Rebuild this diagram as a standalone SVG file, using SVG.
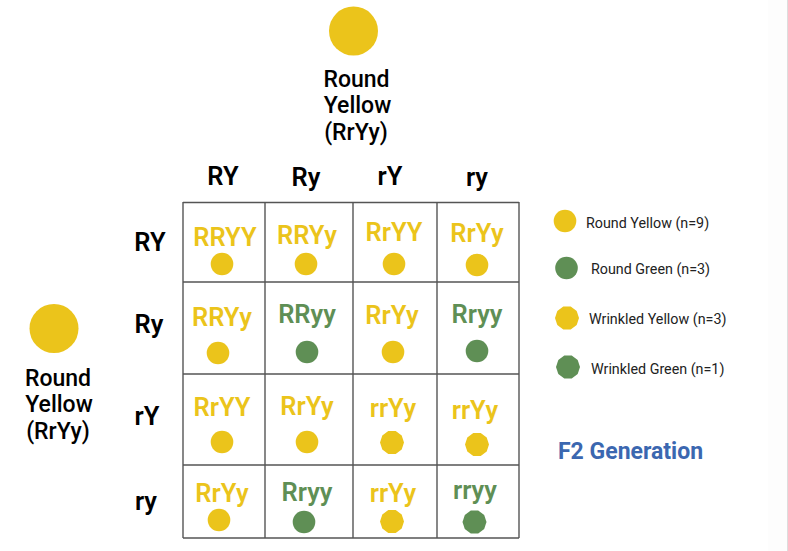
<svg xmlns="http://www.w3.org/2000/svg" width="788" height="551" viewBox="0 0 788 551">
<style>
text{font-family:Roboto,"Liberation Sans",sans-serif}
.h{font-size:25.500px;font-weight:600;fill:#000;text-anchor:middle}
.p{font-size:23px;font-weight:500;fill:#000;text-anchor:middle}
.g{font-size:25.500px;font-weight:600;text-anchor:middle}
.y{fill:#ebc41b}
.n{fill:#5f8f55}
.l{font-size:14.300px;fill:#222}
.grid line{stroke:#555;stroke-width:1.4}
</style>
<defs>
<polygon id="w" points="12,0 9.7,7 3.7,11.4 -3.7,11.4 -9.7,7 -12,0 -9.7,-7 -3.7,-11.4 3.7,-11.4 9.7,-7"/>
</defs>
<rect width="788" height="551" fill="#fff"/>
<rect x="768" y="0" width="20" height="551" fill="#fdfdfd"/>
<rect x="787" y="0" width="1" height="551" fill="#ddd"/>
<g id="connectors" class="grid">
<line x1="183" y1="202.500" x2="519" y2="202.500"/>
<line x1="183" y1="282" x2="519" y2="282"/>
<line x1="183" y1="374" x2="519" y2="374"/>
<line x1="183" y1="465" x2="519" y2="465"/>
<line x1="183" y1="538" x2="519" y2="538"/>
<line x1="183" y1="202" x2="183" y2="538"/>
<line x1="265" y1="202" x2="265" y2="538"/>
<line x1="353" y1="202" x2="353" y2="538"/>
<line x1="437" y1="202" x2="437" y2="538"/>
<line x1="519" y1="202" x2="519" y2="538"/>
</g>
<g id="parent-top">
<circle cx="353.500" cy="31" r="24.500" class="y"/>
<text class="p" x="356.500" y="87">Round</text>
<text class="p" x="357.500" y="113">Yellow</text>
<text class="p" x="356" y="140">(RrYy)</text>
</g>
<g id="parent-left">
<circle cx="54" cy="328.500" r="24.500" class="y"/>
<text class="p" x="58" y="386">Round</text>
<text class="p" x="59" y="412">Yellow</text>
<text class="p" x="58" y="439">(RrYy)</text>
</g>
<g id="col-headers">
<text class="h" x="223" y="185">RY</text>
<text class="h" x="306" y="186">Ry</text>
<text class="h" x="390" y="185">rY</text>
<text class="h" x="477" y="186">ry</text>
</g>
<g id="row-headers">
<text class="h" x="150" y="251">RY</text>
<text class="h" x="149" y="333">Ry</text>
<text class="h" x="147" y="425">rY</text>
<text class="h" x="146" y="510">ry</text>
</g>
<g id="c11"><text class="g y" x="225" y="246">RRYY</text><circle cx="222" cy="264" r="11.300" class="y"/></g>
<g id="c12"><text class="g y" x="307" y="244">RRYy</text><circle cx="306" cy="264" r="11.300" class="y"/></g>
<g id="c13"><text class="g y" x="394" y="241">RrYY</text><circle cx="394" cy="264" r="11.300" class="y"/></g>
<g id="c14"><text class="g y" x="477" y="242">RrYy</text><circle cx="477" cy="265" r="11.300" class="y"/></g>
<g id="c21"><text class="g y" x="222" y="326">RRYy</text><circle cx="218" cy="353" r="11.300" class="y"/></g>
<g id="c22"><text class="g n" x="307" y="323">RRyy</text><circle cx="307" cy="352" r="11.300" class="n"/></g>
<g id="c23"><text class="g y" x="392" y="324">RrYy</text><circle cx="393" cy="352" r="11.300" class="y"/></g>
<g id="c24"><text class="g n" x="477" y="323">Rryy</text><circle cx="477" cy="351" r="11.300" class="n"/></g>
<g id="c31"><text class="g y" x="222" y="416">RrYY</text><circle cx="222" cy="442" r="11.300" class="y"/></g>
<g id="c32"><text class="g y" x="307" y="415">RrYy</text><circle cx="307" cy="442" r="11.300" class="y"/></g>
<g id="c33"><text class="g y" x="393" y="417">rrYy</text><use href="#w" x="392" y="442.500" class="y"/></g>
<g id="c34"><text class="g y" x="475" y="419">rrYy</text><use href="#w" x="477" y="444.500" class="y"/></g>
<g id="c41"><text class="g y" x="222" y="502">RrYy</text><circle cx="219" cy="520" r="11.300" class="y"/></g>
<g id="c42"><text class="g n" x="307" y="501">Rryy</text><circle cx="304" cy="522" r="11.300" class="n"/></g>
<g id="c43"><text class="g y" x="393" y="502">rrYy</text><use href="#w" x="392" y="521.500" class="y"/></g>
<g id="c44"><text class="g n" x="475" y="499">rryy</text><use href="#w" x="474.500" y="522" class="n"/></g>
<g id="legend-1"><circle cx="565" cy="221" r="11.300" class="y"/><text class="l" x="586" y="228">Round Yellow (n=9)</text></g>
<g id="legend-2"><circle cx="566.500" cy="268" r="11.300" class="n"/><text class="l" x="591" y="274">Round Green (n=3)</text></g>
<g id="legend-3"><use href="#w" x="567" y="318" class="y"/><text class="l" x="589" y="324">Wrinkled Yellow (n=3)</text></g>
<g id="legend-4"><use href="#w" x="568" y="367" class="n"/><text class="l" x="591" y="374">Wrinkled Green (n=1)</text></g>
<g id="title"><text x="558" y="459" font-size="23" font-weight="700" fill="#3b67b0">F2 Generation</text></g>
</svg>
